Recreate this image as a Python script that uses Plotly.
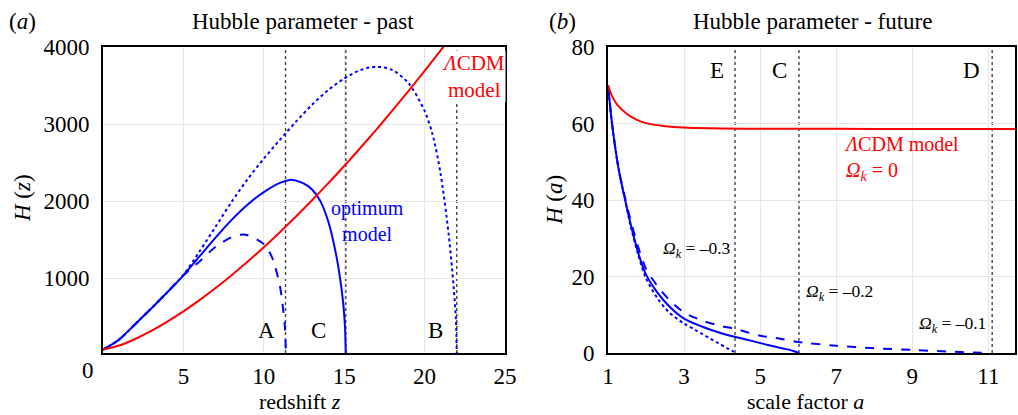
import plotly.graph_objects as go

W, H = 1018, 415
FONT = "Liberation Serif"

# ---------------- panel (a) data: Hubble parameter - past ----------------
z_lcdm = [0, 1, 2, 3, 4, 5, 6, 7, 8, 9, 10, 11, 12, 13, 14, 15, 16, 17, 18, 19, 20, 21, 22]
H_lcdm = [70, 123, 208, 312, 433, 567, 713, 870, 1037, 1214, 1400, 1595, 1798, 2009, 2228,
          2455, 2688, 2928, 3176, 3430, 3690, 3957, 4228]

z_opt = [0, 0.5, 1, 2, 3, 4, 5, 6, 7, 8, 9, 10, 11, 11.6, 12, 12.5, 13, 13.5, 14, 14.5, 14.8,
         14.95, 15.05, 15.1]
H_opt = [70, 130, 200, 400, 605, 815, 1035, 1280, 1525, 1755, 1955, 2115, 2235, 2274, 2265,
         2225, 2150, 2005, 1740, 1300, 910, 645, 370, 0]

z_dash = [0, 0.5, 1, 2, 3, 4, 5, 6, 7, 8, 8.6, 9, 10, 10.5, 10.7, 11, 11.1, 11.2, 11.3, 11.38]
H_dash = [70, 130, 200, 400, 605, 815, 1035, 1215, 1405, 1530, 1563, 1555, 1440, 1275, 1150,
          900, 764, 600, 400, 0]

z_dot = [0, 0.5, 1, 2, 3, 4, 5, 6, 7, 8, 9, 10, 11, 12, 13, 14, 15, 16, 17, 18, 19, 20, 20.5,
         21, 21.5, 21.8, 21.95, 22.0]
H_dot = [70, 130, 200, 400, 605, 815, 1040, 1345, 1665, 1990, 2285, 2550, 2795, 3030, 3250,
         3440, 3590, 3700, 3745, 3700, 3530, 3170, 2860, 2350, 1560, 900, 450, 0]

vlines_a = [11.35, 15.1, 22.0]
vlabels_a = ["A", "C", "B"]

# ---------------- panel (b) data: Hubble parameter - future ----------------
a_lcdm = [1, 1.1, 1.25, 1.5, 1.75, 2, 2.5, 3, 4, 5, 7, 9, 11, 11.7]
Ha_lcdm = [70, 67.3, 64.8, 62.5, 61.0, 60.1, 59.3, 58.95, 58.7, 58.64, 58.6, 58.58, 58.57, 58.57]

a_m02 = [1, 1.1, 1.2, 1.3, 1.45, 1.6, 1.8, 2.0, 2.3, 2.6, 3, 3.5, 4, 4.35, 4.8, 5.2, 5.6, 5.85, 6.02]
Ha_m02 = [70, 60.5, 53, 47, 40, 33.5, 26, 20.5, 15.8, 12.3, 9.0, 6.8, 5.1, 4.2, 3.1, 2.1, 1.2, 0.6, 0]

a_m01 = [1, 1.1, 1.2, 1.3, 1.45, 1.6, 1.8, 2.0, 2.3, 2.6, 3, 3.5, 4, 4.35, 5, 5.5, 6, 7, 8, 9, 10,
         10.6, 11.05]
Ha_m01 = [70, 60.5, 53, 47, 40.5, 34.5, 27.5, 22, 17.5, 14, 10.6, 8.4, 7.0, 6.3, 4.5, 3.8, 2.9,
          1.9, 1.25, 0.8, 0.35, 0.15, 0]

a_m03 = [1, 1.1, 1.2, 1.3, 1.45, 1.6, 1.8, 2.0, 2.3, 2.6, 3, 3.3, 3.68, 3.9, 4.12, 4.25, 4.34]
Ha_m03 = [70, 60.5, 53, 47, 40, 33, 25.5, 19.5, 14.3, 10.7, 7.7, 6.0, 3.8, 2.6, 1.3, 0.7, 0]

vlines_b = [4.34, 6.02, 11.1]
vlabels_b = ["E", "C", "D"]

RED = "#ff0000"
BLUE = "#0000ff"

fig = go.Figure()

def add(x, y, color, dash, xa, ya):
    fig.add_trace(go.Scatter(x=x, y=y, mode="lines", xaxis=xa, yaxis=ya,
                             line=dict(color=color, width=2, dash=dash, shape="spline",
                                       smoothing=0.8),
                             showlegend=False, hoverinfo="skip"))

add(z_dot, H_dot, BLUE, "dot", "x", "y")
add(z_dash, H_dash, BLUE, "dash", "x", "y")
add(z_opt, H_opt, BLUE, "solid", "x", "y")
add(z_lcdm, H_lcdm, RED, "solid", "x", "y")

add(a_m03, Ha_m03, BLUE, "dot", "x2", "y2")
add(a_m01, Ha_m01, BLUE, "dash", "x2", "y2")
add(a_m02, Ha_m02, BLUE, "solid", "x2", "y2")
add(a_lcdm, Ha_lcdm, RED, "solid", "x2", "y2")

shapes = []
for v in vlines_a:
    shapes.append(dict(type="line", xref="x", yref="y domain", x0=v, x1=v, y0=0, y1=1,
                       line=dict(color="#444444", width=1.4, dash="dot"), layer="below"))
for v in vlines_b:
    shapes.append(dict(type="line", xref="x2", yref="y2 domain", x0=v, x1=v, y0=0, y1=1,
                       line=dict(color="#444444", width=1.4, dash="dot"), layer="below"))

def px(x):
    return x / W

def py(y):
    return 1 - y / H

ann = []

def text(x, y, t, size=23, color="black", xanchor="center", angle=0, bg=None, align="center"):
    d = dict(x=px(x), y=py(y), xref="paper", yref="paper", text=t, showarrow=False,
             xanchor=xanchor, yanchor="middle", textangle=angle, align=align, borderpad=0,
             font=dict(family=FONT, size=size, color=color))
    if bg:
        d["bgcolor"] = bg
    ann.append(d)

# titles
text(303, 22, "Hubble parameter - past", 23)
text(22, 22, "(<i>a</i>)", 23)
text(812, 22, "Hubble parameter - future", 23)
text(562, 22, "(<i>b</i>)", 23)
# axis titles
text(300, 401, "redshift <i>z</i>", 22)
text(805, 401, "scale factor <i>a</i>", 22)
text(22, 198, "<i>H</i> (<i>z</i>)", 23, angle=-90)
text(554, 200, "<i>H</i> (<i>a</i>)", 23, angle=-90)
# x tick "0" of panel a
text(88, 370, "0", 23)

# line labels panel a
for lab, xp in zip(vlabels_a, [266, 318, 435]):
    text(xp, 330, lab, 23)
text(367, 221, "optimum<br>model", 20, BLUE)
text(473, 77, "<i>Λ</i>CDM<br>model", 21, RED, bg="white")

# line labels panel b
for lab, xp in zip(vlabels_b, [717, 779, 971]):
    text(xp, 70, lab, 23)
text(843, 158, "<i>Λ</i>CDM model<br><i>Ω</i><sub><i>k</i></sub> = 0", 20, RED,
     xanchor="left", align="left")
text(662, 249, "<i>Ω</i><sub><i>k</i></sub> = –0.3", 17.5, xanchor="left")
text(805, 292, "<i>Ω</i><sub><i>k</i></sub> = –0.2", 17.5, xanchor="left")
text(918, 324, "<i>Ω</i><sub><i>k</i></sub> = –0.1", 17.5, xanchor="left")

ydom = [1 - 353 / H, 1 - 47 / H]
axcommon = dict(showline=True, linecolor="black", linewidth=1.6, mirror=True,
                showgrid=True, gridcolor="#e6e6e6", gridwidth=1, zeroline=False,
                automargin=False,
                ticks="", tickfont=dict(family=FONT, size=23, color="black"))

fig.update_layout(
    width=W, height=H,
    margin=dict(l=0, r=0, t=0, b=0, pad=0, autoexpand=False),
    paper_bgcolor="white", plot_bgcolor="white",
    xaxis=dict(domain=[103 / W, 505 / W], range=[0, 25], tickvals=[5, 10, 15, 20, 25],
               anchor="y", ticklabelstandoff=2, **axcommon),
    yaxis=dict(domain=ydom, range=[26, 4000], tickvals=[1000, 2000, 3000, 4000],
               anchor="x", ticklabelstandoff=7, **axcommon),
    xaxis2=dict(domain=[608 / W, 1015 / W], range=[1, 11.7], tickvals=[1, 3, 5, 7, 9, 11],
                anchor="y2", ticklabelstandoff=2, **axcommon),
    yaxis2=dict(domain=ydom, range=[0, 80], tickvals=[0, 20, 40, 60, 80],
                anchor="x2", ticklabelstandoff=7, **axcommon),
    shapes=shapes,
    annotations=ann,
)

fig.write_html("out.html")
